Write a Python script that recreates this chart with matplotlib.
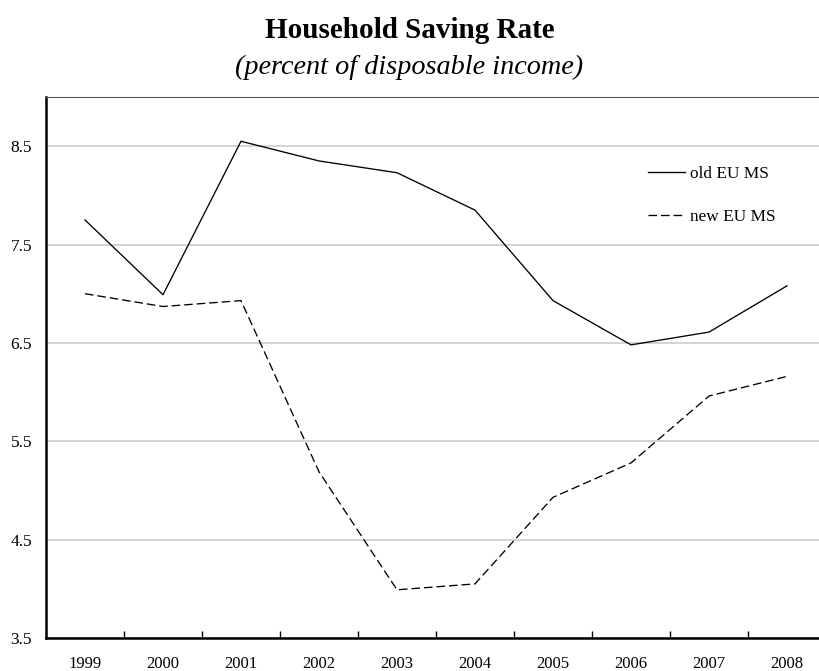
import matplotlib
matplotlib.use("Agg")
import matplotlib.pyplot as plt
from matplotlib.ticker import FixedLocator, NullFormatter

years = ["1999", "2000", "2001", "2002", "2003", "2004", "2005", "2006", "2007", "2008"]
old_eu = [7.75, 6.99, 8.55, 8.35, 8.23, 7.85, 6.93, 6.48, 6.61, 7.08]
new_eu = [7.00, 6.87, 6.93, 5.19, 3.99, 4.05, 4.93, 5.28, 5.96, 6.16]
y_ticks = [3.5, 4.5, 5.5, 6.5, 7.5, 8.5]

plt.rcParams['font.family'] = ['Liberation Serif', 'DejaVu Serif']

W, H = 819, 671
fig = plt.figure(figsize=(W / 100, H / 100), dpi=100)
ax = fig.add_axes([46 / W, (H - 638) / H, 780 / W, (638 - 97) / H])

x = list(range(len(years)))
ax.plot(x, old_eu, color='black', lw=0.95, label='old EU MS', zorder=3)
ax.plot(x, new_eu, color='black', lw=0.95, dashes=(6.5, 3), label='new EU MS', zorder=3)

ax.set_xlim(-0.5, len(years) - 0.5)
ax.set_ylim(3.5, 9.0)

ax.set_yticks(y_ticks)
ax.set_yticklabels([f"{v:.1f}" for v in y_ticks], fontsize=12.5)
ax.tick_params(axis='y', length=0, pad=10)
ax.yaxis.grid(True, color='#c8c8c8', lw=1.1)
ax.set_axisbelow(True)

ax.set_xticks(x)
ax.set_xticklabels(years, fontsize=12)
ax.tick_params(axis='x', which='major', length=0, pad=13)
ax.xaxis.set_minor_locator(FixedLocator([i + 0.5 for i in range(len(years) - 1)]))
ax.xaxis.set_minor_formatter(NullFormatter())
ax.tick_params(axis='x', which='minor', direction='in', length=5, width=1.0, color='black')

for s in ['left', 'bottom']:
    ax.spines[s].set_linewidth(1.8)
    ax.spines[s].set_color('black')
ax.spines['top'].set_linewidth(0.8)
ax.spines['top'].set_color('#555555')
ax.spines['right'].set_linewidth(0.8)
ax.spines['right'].set_color('#555555')

leg = ax.legend(loc='upper left', bbox_to_anchor=(648 / W, 1 - 166 / H),
                bbox_transform=fig.transFigure, frameon=False, fontsize=12.4,
                handlelength=2.15, handletextpad=0.3, labelspacing=1.55,
                borderpad=0, borderaxespad=0)

fig.text(0.5, 1 - 31 / H, "Household Saving Rate", ha='center', va='center',
         fontsize=21, fontweight='bold')
fig.text(0.5, 1 - 67 / H, "(percent of disposable income)", ha='center', va='center',
         fontsize=20.3, style='italic')

fig.savefig("out.png", dpi=100)
